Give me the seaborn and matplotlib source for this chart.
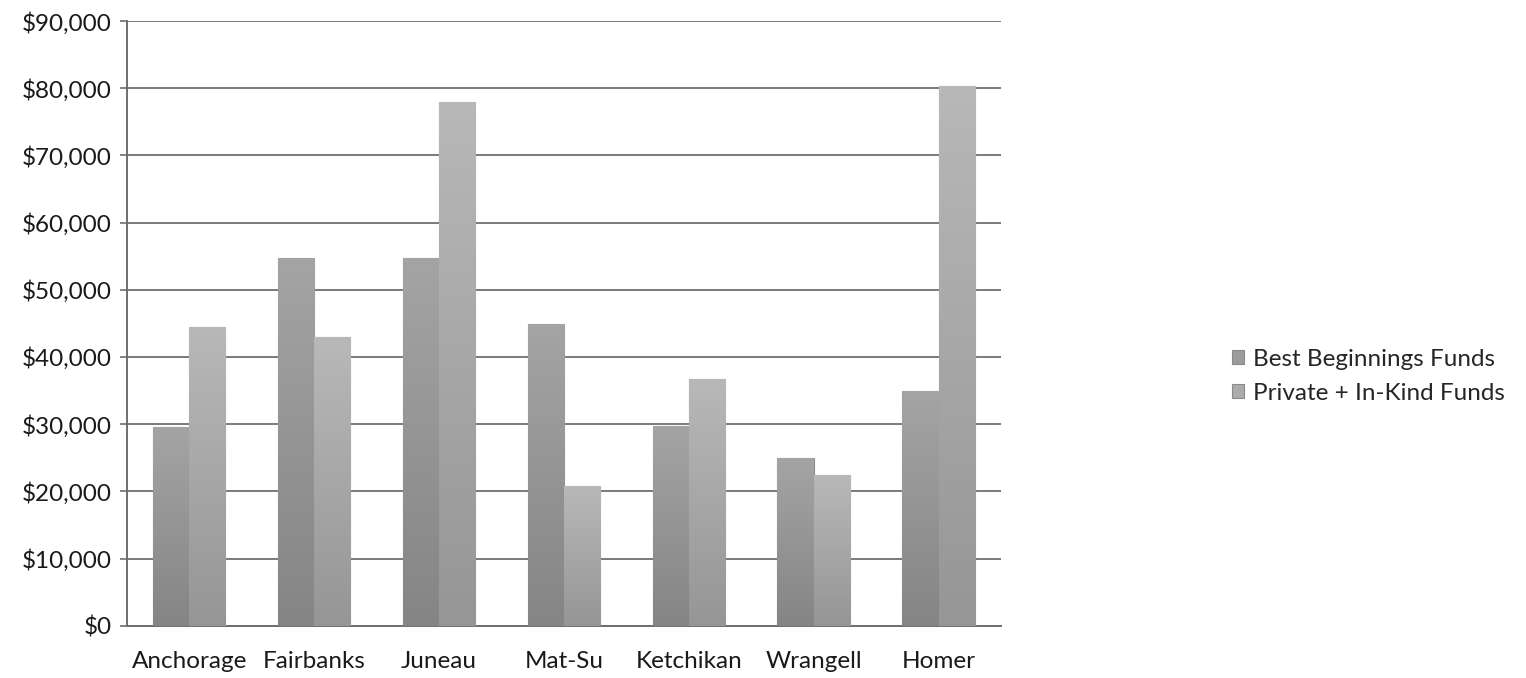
import matplotlib.pyplot as plt
import matplotlib.colors as mcolors
import matplotlib.ticker as mticker
import seaborn as sns
import numpy as np
import pandas as pd

cities = ['Anchorage', 'Fairbanks', 'Juneau', 'Mat-Su', 'Ketchikan', 'Wrangell', 'Homer']
best_beginnings = [29600, 54800, 54700, 44900, 29800, 24900, 34900]
private_inkind = [44500, 43000, 78000, 20800, 36700, 22500, 80400]
series = ['Best Beginnings Funds', 'Private + In-Kind Funds']

df = pd.DataFrame({
    'City': cities * 2,
    'Funds': best_beginnings + private_inkind,
    'Source': [series[0]] * len(cities) + [series[1]] * len(cities),
})

sns.set_theme(style="white")
plt.rcParams['font.family'] = ['Lato', 'DejaVu Sans']

fig = plt.figure(figsize=(15.26, 6.78), dpi=100)
ax = fig.add_axes([0.083, 0.077, 0.573, 0.892])

palette = {series[0]: '#9c9c9c', series[1]: '#ababab'}
sns.barplot(data=df, x='City', y='Funds', hue='Source', palette=palette,
            width=0.58, saturation=1, edgecolor='#8a8a8a', linewidth=0.8,
            ax=ax, zorder=3)

# soft vertical gradient on every bar (darker toward the base)
grads = {series[0]: ('#858585', '#a4a4a4'), series[1]: ('#969696', '#b8b8b8')}
for cont, name in zip(ax.containers, series):
    cmap = mcolors.LinearSegmentedColormap.from_list(name, grads[name])
    for bar in cont:
        x0, y0 = bar.get_x(), bar.get_y()
        w, h = bar.get_width(), bar.get_height()
        img = ax.imshow(np.linspace(0, 1, 100).reshape(-1, 1), cmap=cmap,
                        extent=[x0, x0 + w, y0, y0 + h], origin='lower',
                        aspect='auto', zorder=3.5)
        img.set_clip_path(bar)

ax.set_xlim(-0.5, len(cities) - 0.5)
ax.set_ylim(0, 90000)
ax.yaxis.set_major_locator(mticker.MultipleLocator(10000))
ax.yaxis.set_major_formatter(mticker.FuncFormatter(lambda v, p: f'${v:,.0f}'))
ax.grid(axis='y', color='#7a7a7a', linewidth=1.4, zorder=0)
ax.set_axisbelow(True)

for s in ['top', 'right']:
    ax.spines[s].set_visible(False)
ax.spines['left'].set_color('#6e6e6e')
ax.spines['bottom'].set_color('#6e6e6e')
ax.spines['left'].set_linewidth(1.4)
ax.spines['bottom'].set_linewidth(1.4)

# category boundaries get the tick marks, labels sit in the middle
ax.set_xticks(np.arange(len(cities)))
ax.set_xticklabels(cities)
ax.set_xticks(np.arange(-0.5, len(cities)), minor=True)
ax.tick_params(axis='x', which='major', length=0, pad=18, labelsize=17.5, labelcolor='#1a1a1a')
ax.tick_params(axis='x', which='minor', length=6, width=1.2, color='#6e6e6e', direction='out')
ax.tick_params(axis='y', length=5, width=1.2, color='#6e6e6e', left=True, labelsize=17.5,
               labelcolor='#1a1a1a', pad=6)

ax.set_xlabel('')
ax.set_ylabel('')

handles, labels = ax.get_legend_handles_labels()
ax.legend(handles, labels, loc='center left', frameon=False, fontsize=17.5,
          handlelength=0.5, handleheight=0.5, handletextpad=0.35, labelspacing=0.55)
leg = ax.get_legend()
leg.set_bbox_to_anchor((0.793, 0.445), transform=fig.transFigure)

plt.savefig('out.png', dpi=100, facecolor='white')
